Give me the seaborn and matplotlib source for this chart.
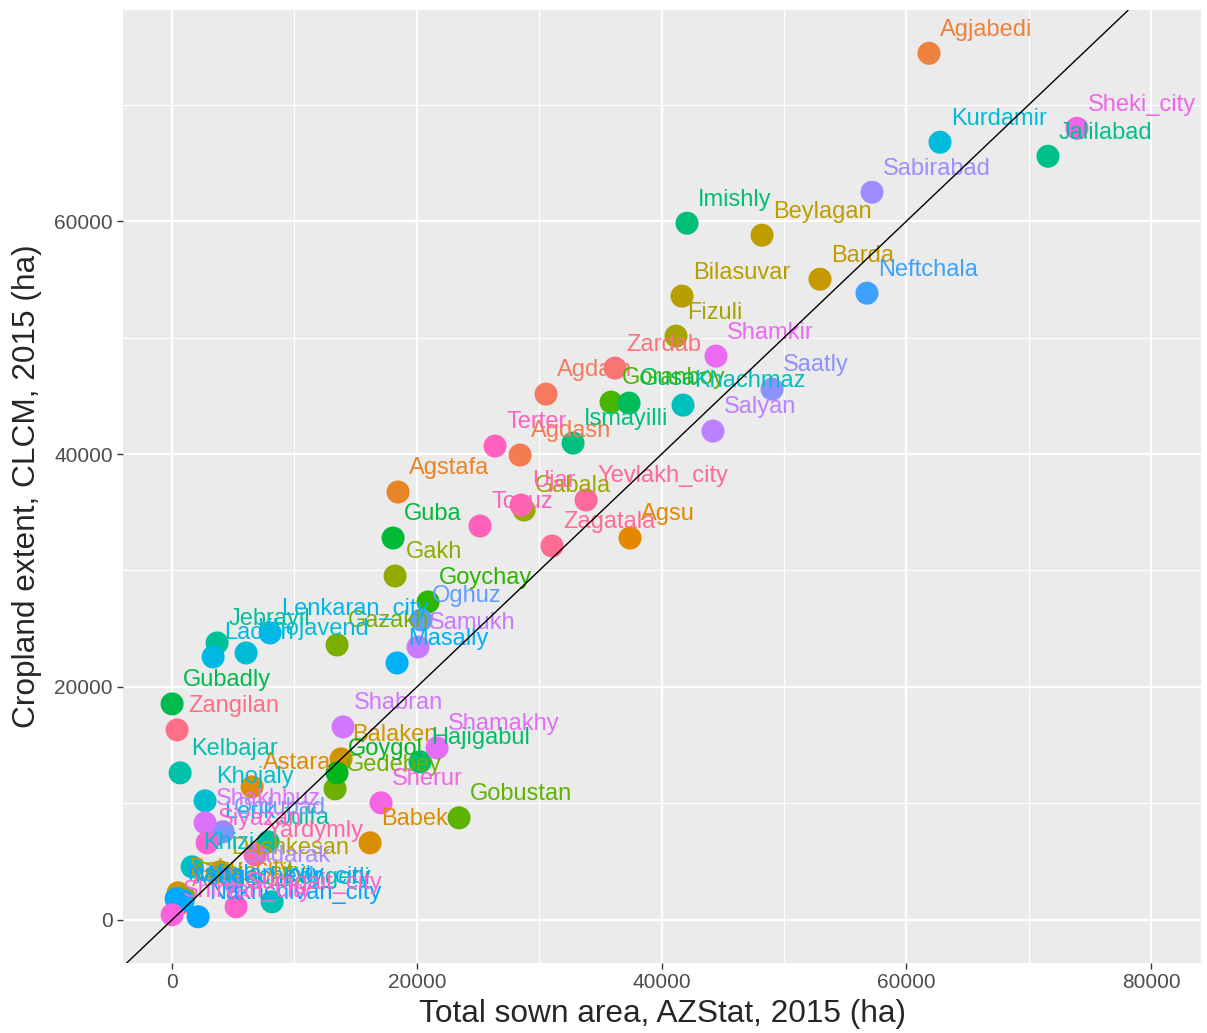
import numpy as np
import pandas as pd
import matplotlib
matplotlib.use("Agg")
import matplotlib.pyplot as plt
import seaborn as sns

# district names and values (ha)
names = ["Absheron", "Agdam", "Agdash", "Agjabedi", "Agstafa", "Agsu", "Astara", "Babek",
         "Baku_city", "Balaken", "Barda", "Beylagan", "Bilasuvar", "Dashkesan", "Fizuli",
         "Gabala", "Gakh", "Ganja_city", "Gazakh", "Gedebey", "Gobustan", "Goranboy",
         "Goychay", "Goygol", "Guba", "Gubadly", "Gusar", "Hajigabul", "Imishly", "Ismayilli",
         "Jalilabad", "Jebrayil", "Julfa", "Kelbajar", "Kengerli", "Khachmaz", "Khizi",
         "Khojaly", "Khojavend", "Kurdamir", "Lachin", "Lenkaran_city", "Lerik", "Masally",
         "Mingachevir_city", "Naftalan_city", "Nakhchivan_city", "Neftchala", "Oghuz",
         "Ordubad", "Saatly", "Sabirabad", "Sadarak", "Salyan", "Samukh", "Shabran",
         "Shakhbuz", "Shamakhy", "Shamkir", "Sheki_city", "Sherur", "Shirvan_city",
         "Siyazan", "Sumgait_city", "Terter", "Tovuz", "Ujar", "Yardymly", "Yevlakh_city",
         "Zagatala", "Zangilan", "Zardab"]

sown_area = [700, 30556, 28431, 61846, 18464, 37418, 6536, 16176,
             490, 13807, 52941, 48203, 41667, 3922, 41176,
             28758, 18219, 980, 13480, 13317, 23448, 35866,
             20915, 13480, 18056, 0, 37337, 20261, 42075, 32761,
             71569, 3676, 7843, 654, 8170, 41748, 1634,
             2696, 6046, 62745, 3350, 8007, 3350, 18382,
             899, 327, 2124, 56781, 20343,
             4167, 49020, 57190, 4902, 44199, 20098, 13971,
             2696, 21650, 44444, 73938, 17075, 0,
             2859, 5229, 26389, 25163, 28513, 6781, 33824,
             31046, 408, 36193]

cropland = [1400, 45150, 39914, 74421, 36738, 32790, 11416, 6609,
            2318, 13820, 55021, 58798, 53562, 4120, 50129,
            35193, 29528, 1974, 23605, 11245, 8755, 44464,
            27296, 12618, 32790, 18541, 44378, 13562, 59828, 40944,
            65579, 23777, 6695, 12618, 1545, 44206, 4549,
            10215, 22918, 66781, 22575, 24635, 7210, 22060,
            1631, 1803, 258, 53820, 25751,
            7554, 45579, 62489, 3433, 41974, 23433, 16567,
            8326, 14764, 48412, 67983, 10043, 429,
            6609, 1116, 40687, 33820, 35622, 5579, 36052,
            32103, 16309, 47382]


def hcl_to_hex(h, c=100.0, l=65.0):
    # same conversion as R's hcl(), used by ggplot's default hue palette
    xn, yn, zn = 95.047, 100.0, 108.883
    un = 4 * xn / (xn + 15 * yn + 3 * zn)
    vn = 9 * yn / (xn + 15 * yn + 3 * zn)
    hr = np.radians(h)
    U, V = c * np.cos(hr), c * np.sin(hr)
    Y = yn * ((l + 16) / 116) ** 3 if l > 8 else yn * l / 903.3
    u = U / (13 * l) + un
    v = V / (13 * l) + vn
    X = 9.0 * Y * u / (4 * v)
    Z = -X / 3 - 5 * Y + 3 * Y / v
    X, Y, Z = X / 100, Y / 100, Z / 100
    rgb = [3.240479 * X - 1.537150 * Y - 0.498535 * Z,
           -0.969256 * X + 1.875992 * Y + 0.041556 * Z,
           0.055648 * X - 0.204043 * Y + 1.057311 * Z]
    out = []
    for t in rgb:
        t = 1.055 * t ** (1 / 2.4) - 0.055 if t > 0.00304 else 12.92 * t
        out.append(min(max(t, 0), 1))
    return matplotlib.colors.to_hex(out)


df = pd.DataFrame({"name": names, "sown": sown_area, "crop": cropland})
levels = sorted(names)
hues = np.linspace(15, 375, len(levels) + 1)[:-1]
palette = {n: hcl_to_hex(h) for n, h in zip(levels, hues)}

sns.set_style("darkgrid", {"axes.facecolor": "#EBEBEB", "grid.color": "white"})
plt.rcParams["font.family"] = ["Liberation Sans", "DejaVu Sans"]

fig = plt.figure(figsize=(12.07, 10.33), dpi=100)
ax = fig.add_axes([0.102, 0.068, 0.893, 0.922])

sns.scatterplot(data=df, x="sown", y="crop", hue="name", palette=palette,
                s=275, linewidth=0, legend=False, ax=ax, zorder=3)

for _, row in df.iterrows():
    ax.annotate(row["name"], (row["sown"], row["crop"]), xytext=(8, 17),
                textcoords="offset points", ha="left", va="center",
                fontsize=17, color=palette[row["name"]], zorder=4)

ax.axline((0, 0), slope=1, color="black", linewidth=1, zorder=5)

ax.set_xlim(-4003, 84069)
ax.set_ylim(-3691, 78112)
ax.set_xticks([0, 20000, 40000, 60000, 80000])
ax.set_yticks([0, 20000, 40000, 60000])
ax.set_xticks([10000, 30000, 50000, 70000], minor=True)
ax.set_yticks([10000, 30000, 50000, 70000], minor=True)
ax.grid(which="major", color="white", linewidth=1.6)
ax.grid(which="minor", color="white", linewidth=0.8)
ax.tick_params(which="major", length=4, width=1, color="#333333",
               labelsize=15, labelcolor="#4D4D4D", bottom=True, left=True)
ax.tick_params(which="minor", length=0)
for s in ax.spines.values():
    s.set_visible(False)

ax.set_xlabel("Total sown area, AZStat, 2015 (ha)", fontsize=22.8, labelpad=5)
ax.set_ylabel("Cropland extent, CLCM, 2015 (ha)", fontsize=22.8, labelpad=9)

fig.savefig("out.png", dpi=100)
